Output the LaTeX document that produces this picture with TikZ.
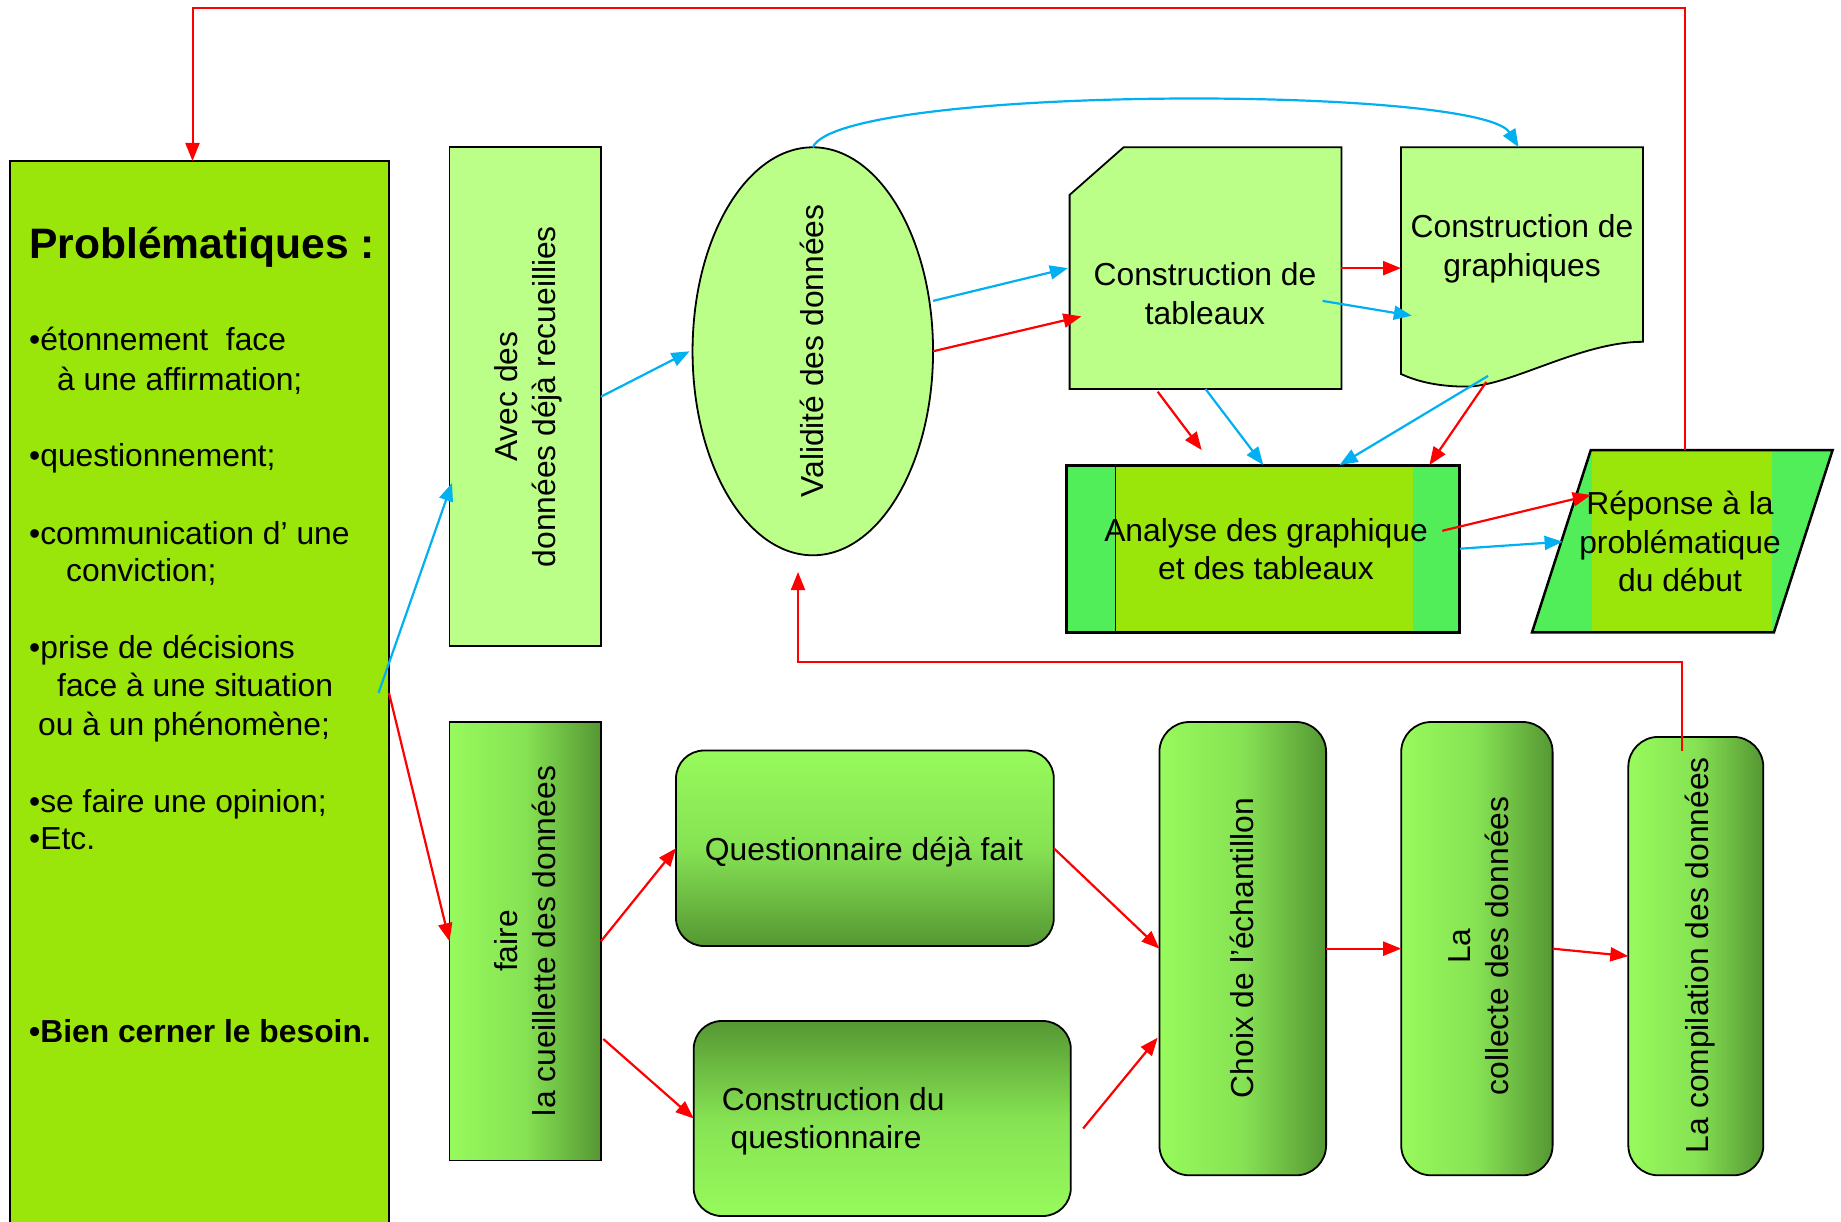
\documentclass[tikz,border=0pt]{standalone}
\usepackage{fontspec}
\setmainfont{Liberation Sans}
\usetikzlibrary{arrows.meta,shapes.geometric}
\newcommand\myfs{\fontsize{31.8}{38.5}\selectfont}
\definecolor{probfill}{HTML}{9AE60A}
\definecolor{lightfill}{HTML}{BBFF88}
\definecolor{brightg}{HTML}{97FA5C}
\definecolor{midg}{HTML}{86E253}
\definecolor{darkg}{HTML}{559733}
\definecolor{stripe}{HTML}{52EE5A}
\definecolor{arrred}{HTML}{FF0000}
\definecolor{arrblue}{HTML}{00B0F0}
\tikzset{
  box/.style={draw=black, line width=1.8pt, inner sep=0pt, outer sep=0pt},
  hgrad/.style={left color=brightg, right color=darkg, middle color=midg},
  vgradA/.style={top color=brightg, bottom color=darkg, middle color=midg},
  vgradB/.style={top color=darkg, bottom color=brightg, middle color=midg},
  txt/.style={font=\myfs, inner sep=0pt, outer sep=0pt, align=center},
  rtxt/.style={txt, rotate=90},
  pl/.style={font=\myfs, inner sep=0pt, anchor=base west},
  ra/.style={draw=arrred, line width=2.2pt, -{Triangle[length=18pt,width=14pt]}},
  ba/.style={draw=arrblue, line width=2.2pt, -{Triangle[length=18pt,width=14pt]}},
  ghost/.style={inner sep=0pt, outer sep=0pt}
}
\begin{document}
\begin{tikzpicture}[x=1pt,y=1pt]
\useasboundingbox (0,0) rectangle (1841,-1222);
\fill[white] (0,0) rectangle (1841,-1222);

% Problematiques box
\node[box, fill=probfill, minimum width=379, minimum height=1074, anchor=north west] (prob) at (10,-161) {};
\node[pl, font=\fontsize{42.6}{50}\selectfont\bfseries] (pt0) at (29,-259) {Problématiques :};
\node[pl] (pt1) at (29,-351) {•étonnement\ \ face};
\node[pl] (pt2) at (57,-390) {à une affirmation;};
\node[pl] (pt3) at (29,-466) {•questionnement;};
\node[pl] (pt4) at (29,-544) {•communication d’ une};
\node[pl] (pt5) at (66,-581) {conviction;};
\node[pl] (pt6) at (29,-658) {•prise de décisions};
\node[pl] (pt7) at (57,-696) {face à une situation};
\node[pl] (pt8) at (38,-735) {ou à un phénomène;};
\node[pl] (pt9) at (29,-812) {•se faire une opinion;};
\node[pl] (pt10) at (29,-849) {•Etc.};
\node[pl, font=\myfs\bfseries] (pt11) at (29,-1042) {•Bien cerner le besoin.};

% Avec des donnees
\node[box, fill=lightfill, minimum width=151.5, minimum height=498.7] (avec) at (525.25,-396.65) {};
\node[rtxt] (avecT) at (529,-396.65) {\strut Avec des\\\strut données déjà recueillies};

% Validite ellipse
\node[box, ellipse, fill=lightfill, minimum width=240.5, minimum height=408] (valid) at (812.8,-351.3) {};
\node[rtxt] (validT) at (816,-351) {\strut Validité des données};

% Construction de tableaux (snipped corner)
\draw[line width=1.8pt, fill=lightfill] (1069.6,-194.9) -- (1123.6,-147.3) -- (1341.4,-147.3) -- (1341.4,-389) -- (1069.6,-389) -- cycle;
\node[ghost, minimum width=271.8, minimum height=241.7] (tab) at (1205.5,-268.15) {};
\node[txt] (tabT) at (1205,-297.5) {\strut Construction de\\\strut tableaux};

% Construction de graphiques (document)
\draw[line width=1.8pt, fill=lightfill] (1401,-147.3) -- (1643,-147.3) -- (1643,-341.8)
  .. controls (1580,-341.8) and (1510,-386.6) .. (1466,-386.6)
  .. controls (1440,-386.6) and (1418,-382) .. (1401,-374) -- cycle;
\node[ghost, minimum width=242, minimum height=238.7] (gra) at (1522,-266.6) {};
\node[txt] (graT) at (1522,-249.3) {\strut Construction de\\\strut graphiques};

% Analyse
\fill[stripe] (1066.7,-465) rectangle (1115.4,-632.4);
\fill[probfill] (1115.4,-465) rectangle (1413,-632.4);
\fill[stripe] (1413,-465) rectangle (1459.9,-632.4);
\draw[line width=1.6pt] (1115.4,-465) -- (1115.4,-632.4);
\node[draw, line width=3pt, inner sep=0pt, outer sep=0pt, minimum width=393.2, minimum height=167.4] (ana) at (1263.3,-548.7) {};
\node[txt] (anaT) at (1266,-553) {\strut Analyse des graphique\\\strut et des tableaux};

% Reponse parallelogram
\begin{scope}
\clip (1590.8,-450) -- (1832.6,-450) -- (1773.9,-632.4) -- (1532,-632.4) -- cycle;
\fill[stripe] (1525,-445) rectangle (1592,-640);
\fill[probfill] (1592,-445) rectangle (1772,-640);
\fill[stripe] (1772,-445) rectangle (1840,-640);
\end{scope}
\draw[line width=2.5pt, line join=miter] (1590.8,-450) -- (1832.6,-450) -- (1773.9,-632.4) -- (1532,-632.4) -- cycle;
\coordinate (rep) at (1682.3,-541.2);
\node[txt] (repT) at (1680,-545.6) {\strut Réponse à la\\\strut problématique\\\strut du début};

% Bottom row
\node[box, hgrad, minimum width=151.5, minimum height=438.5] (faire) at (525.25,-941.25) {};
\node[rtxt] (faireT) at (529,-941) {\strut faire\\\strut la cueillette des données};

\node[box, vgradA, rounded corners=28pt, minimum width=377.8, minimum height=195.5] (ques) at (864.9,-848.25) {};
\node[txt] (quesT) at (864,-852.3) {\strut Questionnaire déjà fait};

\node[box, vgradB, rounded corners=28pt, minimum width=377.1, minimum height=195] (constr) at (882.25,-1118.5) {};
\node[txt, align=left, anchor=west] (constrT) at (721.8,-1121.8) {\strut Construction du\\\strut\hspace*{8.8pt}questionnaire};

\node[box, hgrad, rounded corners=30pt, minimum width=166.7, minimum height=453.3] (choix) at (1242.75,-948.65) {};
\node[rtxt] (choixT) at (1246,-948) {\strut Choix de l’échantillon};

\node[box, hgrad, rounded corners=30pt, minimum width=151.4, minimum height=453.3] (coll) at (1476.9,-948.65) {};
\node[rtxt] (collT) at (1482,-946) {\strut La\\\strut collecte des données};

\node[box, hgrad, rounded corners=30pt, minimum width=135, minimum height=438.4] (comp) at (1695.8,-956.1) {};
\node[rtxt] (compT) at (1701,-955) {\strut La compilation des données};

% Connectors
\draw[ba] ([xshift=-10.5pt,yshift=5pt]prob.east) -- ([xshift=2.5pt,yshift=-86.35pt]avec.west);
\draw[ra] ([yshift=5pt]prob.east) -- (faire.west);
\draw[ba] (avec.east) -- ([xshift=-3pt]valid.west);
\draw[ba] ([yshift=50.4pt]valid.east) -- ([xshift=-1.7pt]tab.west);
\draw[ra] (valid.east) -- ([xshift=11.8pt,yshift=-48.25pt]tab.west);
\draw[ra] (tab.east) -- (tab.east -| gra.west);
\draw[ba] ([xshift=-18.8pt,yshift=-32.75pt]tab.east) -- ([xshift=10.8pt,yshift=-49.1pt]gra.west);
\draw[ra] ([xshift=-47.8pt,yshift=-2.7pt]tab.south) -- ([xshift=-61.6pt,yshift=14.9pt]ana.north);
\draw[ba] (tab.south) -- (ana.north);
\draw[ba] ([xshift=-34pt,yshift=10pt]gra.south) -- ([xshift=76.3pt]ana.north);
\draw[ra] ([xshift=-35.7pt,yshift=4pt]gra.south) -- ([xshift=166.1pt]ana.north);
\draw[ra] ([xshift=-17.6pt,yshift=17.9pt]ana.east) -- ([xshift=-91.5pt,yshift=46.2pt]rep);
\draw[ba] (ana.east) -- ([xshift=-119.7pt,yshift=-0.5pt]rep);
\draw[ba] (valid.north) .. controls +(27.2,62.3) and +(-38.6,62.3) .. ([xshift=-3.4pt]gra.north);

\draw[ra, line width=2pt] ([xshift=2.3pt,yshift=91.2pt]rep) -- ++(0,442.2) -| ([xshift=-7pt]prob.north);
\draw[ra, line width=2pt] ([xshift=-14.1pt,yshift=-14.4pt]comp.north) -- ++(0,89.6) -| ([xshift=-14.8pt,yshift=-16.7pt]valid.south);

\draw[ra] (faire.east) -- (ques.west);
\draw[ra] ([xshift=2.3pt,yshift=-97.75pt]faire.east) -- (constr.west);
\draw[ra] (ques.east) -- (choix.west);
\draw[ra] ([xshift=12.3pt,yshift=-10pt]constr.east) -- ([xshift=-1.7pt,yshift=-89pt]choix.west);
\draw[ra] (choix.east) -- (coll.west);
\draw[ra] (coll.east) -- (comp.west);
\end{tikzpicture}
\end{document}
